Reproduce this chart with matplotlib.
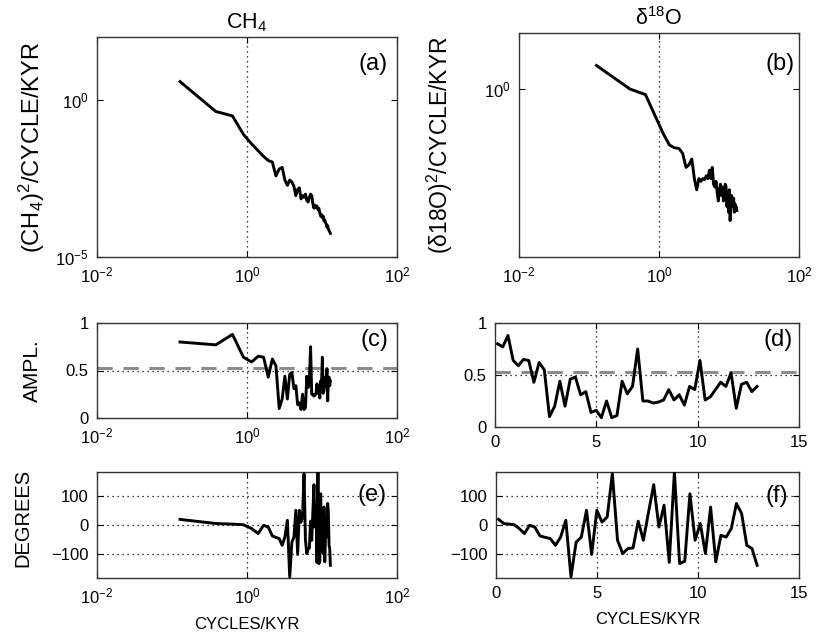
import numpy as np
import matplotlib
matplotlib.use("Agg")
import matplotlib.pyplot as plt

plt.rcParams['font.family'] = ['Liberation Sans', 'DejaVu Sans']
plt.rcParams['mathtext.fontset'] = 'custom'
plt.rcParams['mathtext.rm'] = 'Liberation Sans'
plt.rcParams['mathtext.it'] = 'Liberation Sans:italic'
plt.rcParams['mathtext.bf'] = 'Liberation Sans:bold'

# ---- data ----
freq = [0.128, 0.384, 0.640, 0.896, 1.152, 1.408, 1.664, 1.920, 2.176, 2.432,
        2.688, 2.944, 3.200, 3.456, 3.712, 3.968, 4.224, 4.480, 4.736, 4.992,
        5.248, 5.504, 5.760, 6.016, 6.272, 6.528, 6.784, 7.040, 7.296, 7.552,
        7.808, 8.064, 8.320, 8.576, 8.832, 9.088, 9.344, 9.600, 9.856, 10.112,
        10.368, 10.624, 10.880, 11.136, 11.392, 11.648, 11.904, 12.160, 12.416, 12.672,
        12.928]

# log10 of CH4 power spectrum
ch4_log10_power = [0.58, -0.37, -0.51, -1.10, -1.40, -1.62, -1.80, -1.93, -1.98, -2.42,
                   -2.20, -2.15, -2.55, -2.72, -2.55, -2.62, -2.75, -3.05, -2.85, -2.80,
                   -3.15, -3.05, -3.10, -3.00, -3.20, -3.25, -3.10, -3.00, -3.05, -3.30,
                   -3.45, -3.35, -3.42, -3.38, -3.50, -3.45, -3.60, -3.70, -3.65, -3.75,
                   -3.70, -3.85, -3.82, -3.90, -3.95, -4.05, -4.00, -4.12, -4.15, -4.20,
                   -4.25]

# log10 of d18O power spectrum
d18o_log10_power = [0.42, 0.00, -0.10, -0.50, -0.80, -1.00, -1.05, -1.06, -1.15, -1.40,
                    -1.35, -1.25, -1.60, -1.80, -1.60, -1.65, -1.60, -1.62, -1.55, -1.60,
                    -1.45, -1.60, -1.40, -1.70, -1.75, -1.65, -1.85, -2.00, -1.80, -1.70,
                    -1.90, -1.75, -2.00, -1.95, -1.70, -1.75, -2.10, -1.90, -2.20, -1.80,
                    -2.35, -2.10, -1.90, -2.00, -2.10, -1.95, -2.20, -2.05, -2.15, -2.10,
                    -2.17]

coh_amp = [0.80, 0.77, 0.88, 0.64, 0.59, 0.65, 0.64, 0.43, 0.62, 0.55,
           0.10, 0.20, 0.44, 0.20, 0.46, 0.48, 0.31, 0.34, 0.14, 0.16,
           0.09, 0.25, 0.09, 0.11, 0.44, 0.32, 0.39, 0.75, 0.25, 0.25,
           0.23, 0.24, 0.26, 0.36, 0.26, 0.31, 0.21, 0.39, 0.36, 0.64,
           0.26, 0.29, 0.36, 0.43, 0.39, 0.52, 0.18, 0.41, 0.43, 0.34,
           0.39]

coh_phase = [19, 5, 3, 1, -12, -29, -1, -7, -37, -42,
             -46, -69, -41, 16, -176, -58, -41, 50, -100, 50,
             10, 27, 174, -52, -97, -80, -78, 13, -52, 44,
             137, -7, 67, -127, 180, -131, -123, 106, -52, 5,
             -97, 61, -125, -35, -41, -12, 73, 39, -69, -80,
             -137]

significance_level = 0.53

f = np.array(freq)
p_ch4 = 10.0 ** np.array(ch4_log10_power)
p_d18o = 10.0 ** np.array(d18o_log10_power)

W, H = 816, 643
fig = plt.figure(figsize=(W / 100, H / 100), dpi=100)

def box(l, r, t, b):
    return [l / W, 1 - b / H, (r - l) / W, (b - t) / H]

axa = fig.add_axes(box(97, 397, 37, 257))
axb = fig.add_axes(box(519, 799, 33, 257))
axc = fig.add_axes(box(97, 397, 323, 418))
axd = fig.add_axes(box(495, 799, 323, 427))
axe = fig.add_axes(box(97, 397, 472, 578))
axf = fig.add_axes(box(496, 799, 472, 578))

FS = 12
LW = 2.1
dotkw = dict(color='black', linestyle=(0, (1, 3)), linewidth=0.9)

def style(ax):
    ax.tick_params(direction='in', top=True, right=True, labelsize=FS,
                   length=4, width=0.8, pad=6)
    ax.minorticks_off()
    for s in ax.spines.values():
        s.set_linewidth(1.0)
        s.set_color('#333333')

# (a)
axa.loglog(f, p_ch4, color='black', lw=LW)
axa.set_xlim(1e-2, 1e2)
axa.set_ylim(1e-5, 1e2)
axa.set_xticks([1e-2, 1e0, 1e2])
axa.set_yticks([1e-5, 1e0])
axa.axvline(1.0, **dotkw)
style(axa)
axa.set_ylabel('(CH$_4$)$^2$/CYCLE/KYR', fontsize=17)
axa.yaxis.set_label_coords(-0.167, 0.5)
axa.set_title('CH$_4$', fontsize=15.5, pad=6)
axa.text(0.97, 0.877, '(a)', transform=axa.transAxes, ha='right', va='center', fontsize=17)

# (b)
axb.loglog(f, p_d18o, color='black', lw=LW)
axb.set_xlim(1e-2, 1e2)
axb.set_ylim(1e-3, 1e1)
axb.set_xticks([1e-2, 1e0, 1e2])
axb.set_yticks([1e0])
axb.axvline(1.0, **dotkw)
style(axb)
axb.set_ylabel('(δ18O)$^2$/CYCLE/KYR', fontsize=16.5)
axb.yaxis.set_label_coords(-0.229, 0.5)
axb.set_title('δ$^{18}$O', fontsize=15.5, pad=6)
axb.text(0.985, 0.862, '(b)', transform=axb.transAxes, ha='right', va='center', fontsize=17)

# (c)
axc.semilogx(f, coh_amp, color='black', lw=LW, zorder=3)
axc.axhline(0.5, **dotkw)
axc.axvline(1.0, **dotkw)
axc.axhline(significance_level, color='#8c8c8c', lw=2.2, dashes=(5, 3.5), zorder=2)
axc.set_xlim(1e-2, 1e2)
axc.set_ylim(0, 1)
axc.set_xticks([1e-2, 1e0, 1e2])
axc.set_yticks([0, 0.5, 1])
axc.set_yticklabels(['0', '0.5', '1'])
style(axc)
axc.set_ylabel('AMPL.', fontsize=15)
axc.yaxis.set_label_coords(-0.183, 0.5)
axc.text(0.97, 0.82, '(c)', transform=axc.transAxes, ha='right', va='center', fontsize=17)

# (d)
axd.plot(f, coh_amp, color='black', lw=LW, zorder=3)
axd.axhline(0.5, **dotkw)
for xv in (5, 10):
    axd.axvline(xv, **dotkw)
axd.axhline(significance_level, color='#8c8c8c', lw=2.2, dashes=(5, 3.5), zorder=2)
axd.set_xlim(0, 15)
axd.set_ylim(0, 1)
axd.set_xticks([0, 5, 10, 15])
axd.set_yticks([0, 0.5, 1])
axd.set_yticklabels(['0', '0.5', '1'])
style(axd)
axd.text(0.98, 0.84, '(d)', transform=axd.transAxes, ha='right', va='center', fontsize=17)

# (e)
axe.semilogx(f, coh_phase, color='black', lw=LW, zorder=3)
for yv in (-100, 0, 100):
    axe.axhline(yv, **dotkw)
axe.axvline(1.0, **dotkw)
axe.set_xlim(1e-2, 1e2)
axe.set_ylim(-180, 180)
axe.set_xticks([1e-2, 1e0, 1e2])
axe.set_yticks([-100, 0, 100])
style(axe)
axe.set_ylabel('DEGREES', fontsize=14.5)
axe.yaxis.set_label_coords(-0.217, 0.57)
axe.set_xlabel('CYCLES/KYR', fontsize=12, labelpad=8)
axe.text(0.967, 0.78, '(e)', transform=axe.transAxes, ha='right', va='center', fontsize=17)

# (f)
axf.plot(f, coh_phase, color='black', lw=LW, zorder=3)
for yv in (-100, 0, 100):
    axf.axhline(yv, **dotkw)
for xv in (5, 10):
    axf.axvline(xv, **dotkw)
axf.set_xlim(0, 15)
axf.set_ylim(-180, 180)
axf.set_xticks([0, 5, 10, 15])
axf.set_yticks([-100, 0, 100])
style(axf)
axf.set_xlabel('CYCLES/KYR', fontsize=12, labelpad=8)
axf.text(0.964, 0.77, '(f)', transform=axf.transAxes, ha='right', va='center', fontsize=17)

fig.savefig('out.png', dpi=100)
